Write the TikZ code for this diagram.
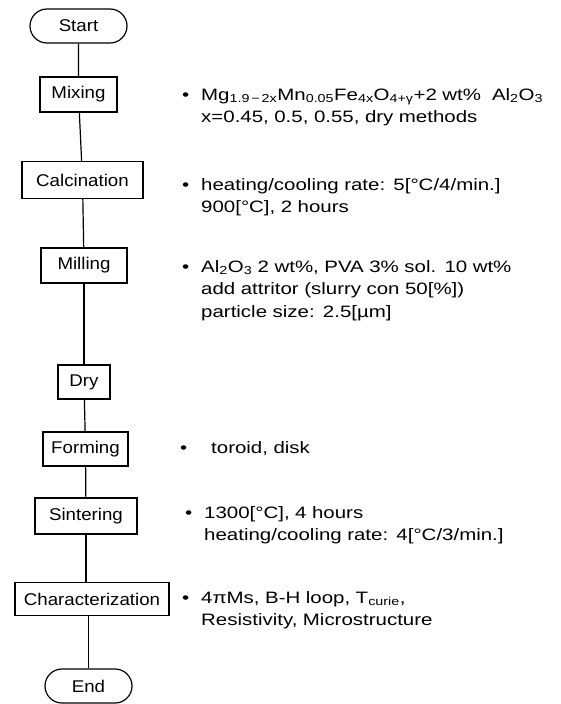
\documentclass[tikz,border=0pt]{standalone}
\usepackage{fontspec}
\usetikzlibrary{shapes.misc}
\newfontfamily\notefam[FakeStretch=1.24,WordSpace=1.6]{Liberation Sans}
\newfontfamily\boxfam[FakeStretch=1.1]{Liberation Sans}
\newcommand\notefont{\fontsize{16.5}{22.5}\selectfont\notefam}
\newcommand\boxfont{\fontsize{17}{20}\selectfont\boxfam}
\newcommand\bul[1][12pt]{\llap{\textbullet\hspace{#1}}}
\tikzset{
  stepbox/.style={draw,line width=1.2pt,rectangle,inner sep=0pt,font=\boxfont},
  termbox/.style={draw,line width=1.2pt,rounded rectangle,inner sep=0pt,font=\boxfont},
  note/.style={anchor=base west,text width=360pt,align=left,inner sep=0pt,font=\notefont},
  link/.style={line width=1.2pt}
}
\begin{document}
\begin{tikzpicture}[x=1pt,y=-1pt]
  \useasboundingbox (0,0) rectangle (561,704);
  \node [termbox,minimum width=97pt,minimum height=34pt] (start) at (78.5,26) {Start};
  \node [stepbox,minimum width=77pt,minimum height=35pt] (mix) at (78.5,94.5) {Mixing};
  \node [stepbox,minimum width=121pt,minimum height=37pt] (calc) at (82.5,180) {Calcination};
  \node [stepbox,minimum width=86pt,minimum height=35pt] (mill) at (84,265.5) {Milling};
  \node [stepbox,minimum width=52pt,minimum height=34pt] (dry) at (84,382) {Dry};
  \node [stepbox,minimum width=85pt,minimum height=34pt] (form) at (85.5,449) {Forming};
  \node [stepbox,minimum width=102pt,minimum height=36pt] (sint) at (86,516) {Sintering};
  \node [stepbox,minimum width=154pt,minimum height=33pt] (char) at (92,599) {Characterization};
  \node [termbox,minimum width=87pt,minimum height=34pt] (end) at (88.5,686) {End};
  \draw [link] (start) -- (mix);
  \draw [link] (mix) -- (calc);
  \draw [link] (calc) -- (mill);
  \draw [link] (mill) -- (dry);
  \draw [link] (dry) -- (form);
  \draw [link] (form) -- (sint);
  \draw [link] (sint.south) -- (sint.south |- char.north);
  \draw [link] (end.north) -- (end.north |- char.south);
  \node [note] (mixnote) at (201,100) {\bul Mg\textsubscript{1.9\,\textminus\,2x}Mn\textsubscript{0.05}Fe\textsubscript{4x}O\textsubscript{4+γ}+2 wt\%\ \ Al\textsubscript{2}O\textsubscript{3}\\
    x=0.45, 0.5, 0.55, dry methods};
  \node [note] (calcnote) at (201,190) {\bul heating/cooling rate: 5[°C/4/min.]\\
    900[°C], 2 hours};
  \node [note] (millnote) at (201,272) {\bul Al\textsubscript{2}O\textsubscript{3} 2 wt\%, PVA 3\% sol. 10 wt\%\\
    add attritor (slurry con 50[\%])\\
    particle size: 2.5[µm]};
  \node [note] (formnote) at (211,453) {\bul[24pt]toroid, disk};
  \node [note] (sintnote) at (204,518) {\bul 1300[°C], 4 hours\\
    heating/cooling rate: 4[°C/3/min.]};
  \node [note] (charnote) at (201,603) {\bul 4πMs, B-H loop, T\textsubscript{curie},\\
    Resistivity, Microstructure};
\end{tikzpicture}
\end{document}
